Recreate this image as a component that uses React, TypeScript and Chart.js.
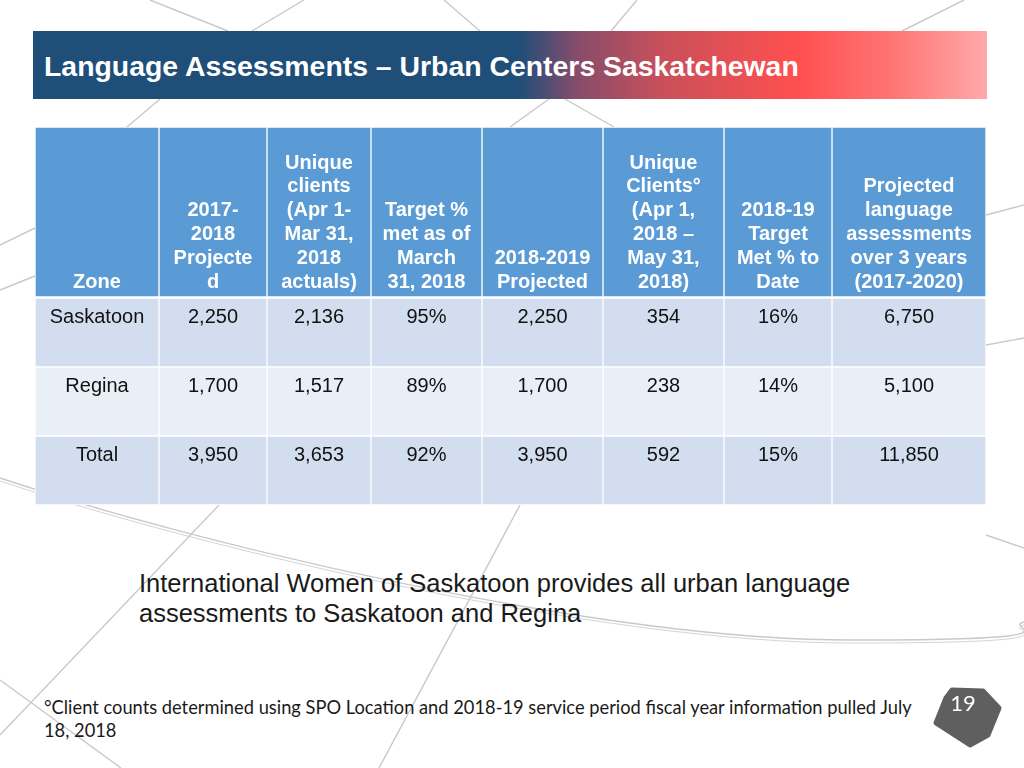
import React, { useEffect, useRef } from "react";
import { Chart, registerables } from "chart.js";

Chart.register(...registerables);

// ---------- Data ----------
const zones = ["Saskatoon", "Regina", "Total"];
const projected2017_18 = [2250, 1700, 3950];
const uniqueClients2017_18 = [2136, 1517, 3653];
const targetMetMar2018 = [95, 89, 92];
const projected2018_19 = [2250, 1700, 3950];
const uniqueClients2018 = [354, 238, 592];
const targetMet2018_19 = [16, 14, 15];
const projected3Years = [6750, 5100, 11850];

const columnHeaders: string[][] = [
  ["Zone"],
  ["2017-", "2018", "Projecte", "d"],
  ["Unique", "clients", "(Apr 1-", "Mar 31,", "2018", "actuals)"],
  ["Target %", "met as of", "March", "31, 2018"],
  ["2018-2019", "Projected"],
  ["Unique", "Clients°", "(Apr 1,", "2018 –", "May 31,", "2018)"],
  ["2018-19", "Target", "Met % to", "Date"],
  ["Projected", "language", "assessments", "over 3 years", "(2017-2020)"],
];

const titleText = "Language Assessments – Urban Centers Saskatchewan";
const captionLines = [
  "International Women of Saskatoon provides all urban language",
  "assessments to Saskatoon and Regina",
];
const footnoteLines = [
  "°Client counts determined using SPO Location and 2018-19 service period fiscal year information pulled July",
  "18, 2018",
];
const pageNumber = "19";

// ---------- Layout / style ----------
const COL_WIDTHS = [124, 108, 104, 111, 121, 121, 108, 154];
const TABLE_WIDTH = COL_WIDTHS.reduce((a, b) => a + b, 0);
const HEADER_COLOR = "#5B9BD5";
const ROW_COLORS = ["#D2DEEF", "#E9EFF7", "#D2DEEF"];
const FONT = "'Liberation Sans', Arial, sans-serif";

const fmt = (n: number) => n.toLocaleString("en-US");
const pct = (n: number) => `${n}%`;

const bodyColumns: string[][] = [
  zones,
  projected2017_18.map(fmt),
  uniqueClients2017_18.map(fmt),
  targetMetMar2018.map(pct),
  projected2018_19.map(fmt),
  uniqueClients2018.map(fmt),
  targetMet2018_19.map(pct),
  projected3Years.map(fmt),
];

type Kind = "header" | "body";

function makeTextPlugin(kind: Kind) {
  return {
    id: "cellText_" + kind,
    afterDatasetsDraw(chart: any) {
      const ctx = chart.ctx as CanvasRenderingContext2D;
      ctx.save();
      ctx.textAlign = "center";
      ctx.textBaseline = "middle";
      chart.data.datasets.forEach((_ds: any, c: number) => {
        const meta = chart.getDatasetMeta(c);
        meta.data.forEach((el: any, r: number) => {
          const p = el.getProps(["x", "y", "base", "height"], true);
          const cx = (p.x + p.base) / 2;
          const top = p.y - p.height / 2;
          const bottom = p.y + p.height / 2;
          if (kind === "header") {
            const lines = columnHeaders[c];
            ctx.font = `bold 20px ${FONT}`;
            ctx.fillStyle = "#FFFFFF";
            lines.forEach((t, i) => {
              ctx.fillText(t, cx, bottom - 15 - (lines.length - 1 - i) * 23.8);
            });
          } else {
            ctx.font = `20px ${FONT}`;
            ctx.fillStyle = "#111111";
            ctx.fillText(bodyColumns[c][r], cx, top + 19);
          }
        });
      });
      ctx.restore();
    },
  };
}

function TableChart({ kind, width, height, style }: { kind: Kind; width: number; height: number; style: React.CSSProperties }) {
  const ref = useRef<HTMLCanvasElement | null>(null);
  useEffect(() => {
    if (!ref.current) return;
    const labels = kind === "header" ? ["Header"] : zones;
    const chart = new Chart(ref.current, {
      type: "bar",
      data: {
        labels,
        datasets: COL_WIDTHS.map((w, c) => ({
          label: kind === "header" ? columnHeaders[c].join(" ") : bodyColumns[c][0],
          data: labels.map(() => w),
          backgroundColor: kind === "header" ? HEADER_COLOR : ROW_COLORS,
          borderColor: "#FFFFFF",
          borderWidth: 1,
          borderSkipped: false,
          categoryPercentage: 1,
          barPercentage: 1,
        })),
      },
      options: {
        indexAxis: "y",
        animation: false,
        responsive: false,
        maintainAspectRatio: false,
        events: [],
        layout: { padding: 0 },
        plugins: { legend: { display: false }, tooltip: { enabled: false } },
        scales: {
          x: { type: "linear", stacked: true, display: false, min: 0, max: TABLE_WIDTH },
          y: { type: "category", stacked: true, display: false },
        },
      } as any,
      plugins: [makeTextPlugin(kind)],
    });
    return () => chart.destroy();
  }, [kind]);
  return <canvas ref={ref} width={width} height={height} style={{ position: "absolute", width, height, ...style }} />;
}

function Decorations() {
  const s = { stroke: "#C9C9C9", strokeWidth: 1.4, fill: "none" };
  return (
    <svg width={1024} height={768} style={{ position: "absolute", left: 0, top: 0 }}>
      <line x1={150} y1={0} x2={228} y2={31} {...s} />
      <line x1={304} y1={0} x2={252} y2={31} {...s} />
      <line x1={444} y1={0} x2={480} y2={31} {...s} />
      <line x1={637} y1={0} x2={611} y2={31} {...s} />
      <line x1={964} y1={0} x2={902} y2={31} {...s} />
      <line x1={160} y1={99} x2={127} y2={127} {...s} />
      <line x1={549} y1={99} x2={510} y2={127} {...s} />
      <line x1={565} y1={99} x2={614} y2={127} {...s} />
      <line x1={0} y1={245} x2={35} y2={228} {...s} />
      <line x1={0} y1={290} x2={35} y2={276} {...s} />
      <line x1={986} y1={215} x2={1024} y2={205} {...s} />
      <line x1={986} y1={345} x2={1024} y2={338} {...s} />
      <line x1={986} y1={535} x2={1024} y2={548} {...s} />
      <path d="M0,478 C200,545 600,640 850,640 S1000,628 1024,622" {...s} />
      <path d="M0,481 C200,548 600,643 850,643 S1000,631 1024,625" {...s} strokeWidth={0.8} />
      <line x1={219} y1={505} x2={0} y2={735} {...s} />
      <line x1={520} y1={505} x2={379} y2={768} {...s} />
      <line x1={0} y1={680} x2={121} y2={768} {...s} />
    </svg>
  );
}

export default function App() {
  return (
    <div style={{ position: "absolute", left: 0, top: 0, width: 1024, height: 768, background: "#FFFFFF", overflow: "hidden", fontFamily: FONT }}>
      <Decorations />
      <div
        style={{
          position: "absolute",
          left: 33,
          top: 31,
          width: 954,
          height: 68,
          background:
            "linear-gradient(to right, #1F4E79 0%, #1F4E79 51%, #874C6B 57%, #C9505A 66%, #FF4F4F 80%, #FF7474 90%, #FFA9A9 100%)",
        }}
      />
      <div style={{ position: "absolute", left: 44, top: 49, fontSize: 28.4, fontWeight: "bold", color: "#FFFFFF", lineHeight: "34px", whiteSpace: "nowrap" }}>
        {titleText}
      </div>
      <TableChart kind="header" width={TABLE_WIDTH} height={170} style={{ left: 35, top: 127 }} />
      <TableChart kind="body" width={TABLE_WIDTH} height={207} style={{ left: 35, top: 298 }} />
      {captionLines.map((t, i) => (
        <div key={i} style={{ position: "absolute", left: 139, top: 567 + i * 30, fontSize: 25.5, lineHeight: "32px", color: "#1A1A1A", whiteSpace: "nowrap" }}>
          {t}
        </div>
      ))}
      {footnoteLines.map((t, i) => (
        <div key={i} style={{ position: "absolute", left: 44, top: 696 + i * 23, fontSize: 18.3, lineHeight: "23px", color: "#1A1A1A", whiteSpace: "nowrap", fontFamily: "Lato, 'Open Sans', sans-serif" }}>
          {t}
        </div>
      ))}
      <svg width={1024} height={768} style={{ position: "absolute", left: 0, top: 0, pointerEvents: "none" }}>
        <polygon
          points="952,690 983,691 999,708 988,735 970,745 936,723 946,698"
          fill="#5F5F5F"
          stroke="#5F5F5F"
          strokeWidth={5}
          strokeLinejoin="round"
        />
      </svg>
      <div style={{ position: "absolute", left: 940, top: 690, width: 46, textAlign: "center", fontSize: 22, lineHeight: "26px", color: "#FFFFFF", fontFamily: "Lato, sans-serif" }}>
        {pageNumber}
      </div>
    </div>
  );
}
